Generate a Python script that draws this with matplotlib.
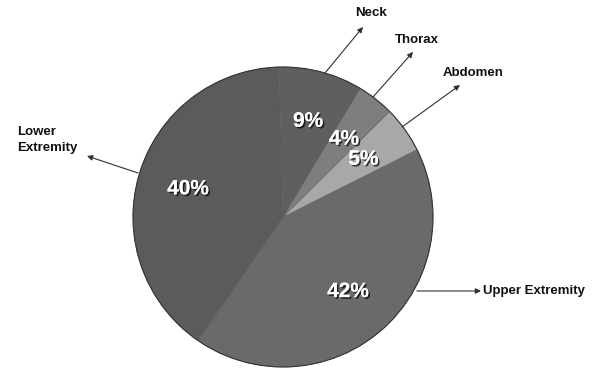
import matplotlib.pyplot as plt
import matplotlib.patheffects as pe
from matplotlib.patches import Circle

# slices, counterclockwise starting from the lower-left boundary
labels = ["Upper Extremity", "Abdomen", "Thorax", "Neck", "Lower\nExtremity"]
values = [42, 5, 4, 9, 40]
colors = ["#6a6a6a", "#a8a8a8", "#7e7e7e", "#5f5f5f", "#5b5b5b"]

W, H = 602, 372
CX, CY, R = 283, 217, 150   # pie centre/radius in pixels (y from top)


def px(x, y):
    # pixel position (y down) -> data coords (y up)
    return x, H - y


# annotation layout in pixels: arrow start, arrow tip, text anchor
layout = {
    "Neck": ((325, 73), (363, 27), (355, 13)),
    "Thorax": ((373, 97), (413, 52), (395, 40)),
    "Abdomen": ((402, 127), (460, 85), (443, 73)),
    "Lower\nExtremity": ((138, 173), (87, 156), (17, 140)),
    "Upper Extremity": ((417, 291), (481, 291), (483, 291)),
}

fig = plt.figure(figsize=(W / 100, H / 100), dpi=100)
ax = fig.add_axes([0, 0, 1, 1])

wedges, texts, autotexts = ax.pie(
    values, colors=colors, startangle=-124.5, counterclock=True,
    center=px(CX, CY), radius=R, autopct="%d%%", pctdistance=0.66,
    wedgeprops=dict(edgecolor="#555555", linewidth=0.3),
    textprops=dict(color="white", fontsize=15, fontweight="bold",
                   family="Liberation Sans"),
)
ax.add_patch(Circle(px(CX, CY), R, fill=False, edgecolor="#333333", lw=0.8))

shadow = [pe.withSimplePatchShadow(offset=(1.2, -1.2), shadow_rgbFace="black", alpha=0.7),
          pe.Normal()]
for t in autotexts:
    t.set_path_effects(shadow)

for lab in labels:
    start, tip, txt = layout[lab]
    ax.annotate("", xy=px(*tip), xytext=px(*start),
                arrowprops=dict(arrowstyle="-|>", color="#303030", lw=0.8,
                                mutation_scale=8, shrinkA=0, shrinkB=0))
    ax.text(*px(*txt), lab, ha="left", va="center", fontsize=9.5,
            fontweight="bold", family="Liberation Sans", color="#111111",
            linespacing=1.55)

ax.set_xlim(0, W)
ax.set_ylim(0, H)
ax.set_aspect("auto")
ax.axis("off")

fig.savefig("out.png", dpi=100)
